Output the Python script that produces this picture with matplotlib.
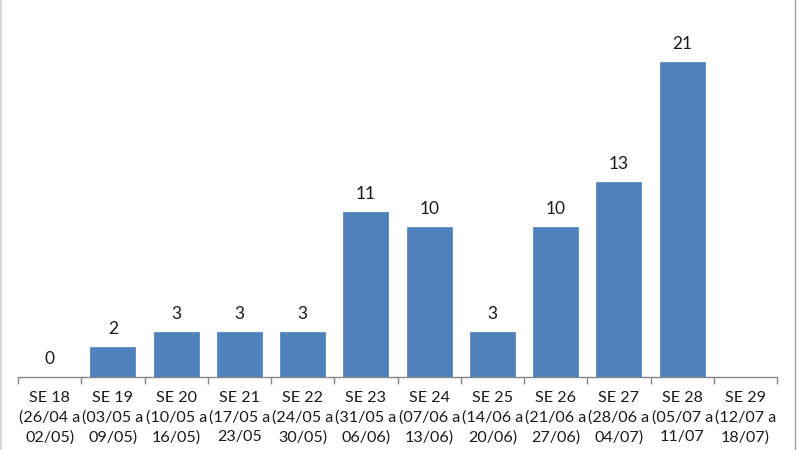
import matplotlib
matplotlib.use('Agg')
import matplotlib.pyplot as plt
from matplotlib.lines import Line2D
import numpy as np

plt.rcParams['font.family'] = ['Lato', 'DejaVu Sans']

semanas = ['SE 18', 'SE 19', 'SE 20', 'SE 21', 'SE 22', 'SE 23',
           'SE 24', 'SE 25', 'SE 26', 'SE 27', 'SE 28', 'SE 29']
periodos = ['(26/04 a\n02/05)', '(03/05 a\n09/05)', '(10/05 a\n16/05)',
            '(17/05 a\n23/05', '(24/05 a\n30/05)', '(31/05 a\n06/06)',
            '(07/06 a\n13/06)', '(14/06 a\n20/06)', '(21/06 a\n27/06)',
            '(28/06 a\n04/07)', '(05/07 a\n11/07', '(12/07 a\n18/07)']
casos = [0, 2, 3, 3, 3, 11, 10, 3, 10, 13, 21, None]

labels = [s + '\n' + p for s, p in zip(semanas, periodos)]
vals = np.array([np.nan if v is None else v for v in casos], dtype=float)
x = np.arange(len(semanas))

fig = plt.figure(figsize=(8, 4.5), dpi=100)
ax = fig.add_axes([0.0225, 0.1622, 0.9488, 0.8334])

ax.bar(x, np.nan_to_num(vals), width=0.71, color='#4F81BD', edgecolor='#4A7EBB', linewidth=0.5)
for xi, v in zip(x, vals):
    if not np.isnan(v):
        ax.text(xi, v + 0.65, '%d' % v, ha='center', va='bottom', fontsize=12.5, color='#1a1a1a')

ax.set_xlim(-0.5, len(semanas) - 0.5)
ax.set_ylim(0, 25)
ax.set_yticks([])
for s in ['top', 'right', 'left']:
    ax.spines[s].set_visible(False)
ax.spines['bottom'].set_color('#868686')
ax.spines['bottom'].set_linewidth(1)

ax.set_xticks(np.arange(-0.5, len(semanas)), minor=False)
ax.set_xticklabels([])
ax.tick_params(axis='x', which='major', length=5, color='#868686', width=1)
ax.set_xticks(x, minor=True)
ax.set_xticklabels(labels, minor=True, fontsize=11.6, linespacing=1.47)
ax.tick_params(axis='x', which='minor', length=0, pad=10, colors='#1a1a1a')

fig.add_artist(Line2D([0.001, 0.001], [0, 1], color='#d9d9d9', linewidth=1.5))
fig.add_artist(Line2D([0.994, 0.994], [0, 1], color='#a0a0a0', linewidth=1))

fig.savefig('out.png', dpi=100)
